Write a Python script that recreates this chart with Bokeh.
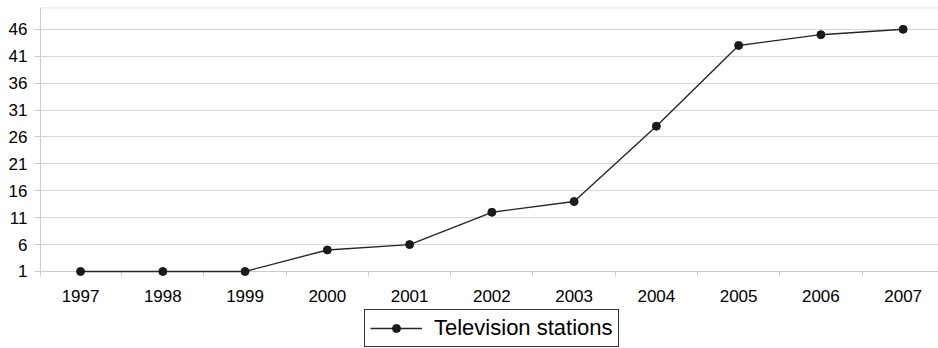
from bokeh.plotting import figure
from bokeh.models import FixedTicker, Range1d, Span, Legend, LegendItem, ColumnDataSource
from bokeh.embed import file_html
from bokeh.resources import INLINE

years = ["1997", "1998", "1999", "2000", "2001", "2002", "2003", "2004", "2005", "2006", "2007"]
stations = [1, 1, 1, 5, 6, 12, 14, 28, 43, 45, 46]
y_ticks = [1, 6, 11, 16, 21, 26, 31, 36, 41, 46]
series_name = "Television stations"

xs = list(range(len(years)))
src = ColumnDataSource(data=dict(x=xs, y=stations))

FONT = "Liberation Sans"
GRID = "#d9d9d9"
AXIS = "#cccccc"

p = figure(width=938, height=348, output_backend="svg", toolbar_location=None,
           x_range=Range1d(-0.487, 10.43), y_range=Range1d(-13.31, 50.05),
           min_border_left=40, min_border_right=0, min_border_top=7, min_border_bottom=0)
p.outline_line_color = None
p.background_fill_color = "white"
p.border_fill_color = "white"

# x axis sits at y = 1; labels at category centres, tick marks at category boundaries
p.xaxis.fixed_location = 1
p.xaxis.ticker = FixedTicker(ticks=xs, minor_ticks=[i - 0.5 for i in range(len(years) + 1)])
p.xaxis.major_label_overrides = {i: y for i, y in enumerate(years)}
p.xaxis.major_tick_out = 0
p.xaxis.major_tick_in = 0
p.xaxis.minor_tick_out = 5
p.xaxis.minor_tick_in = 0
p.xaxis.minor_tick_line_color = AXIS
p.xaxis.axis_line_color = AXIS
p.xaxis.major_label_standoff = 14
p.xaxis.major_label_text_font = FONT
p.xaxis.major_label_text_font_size = "17px"
p.xaxis.major_label_text_color = "black"

p.yaxis.ticker = FixedTicker(ticks=y_ticks, minor_ticks=[])
p.yaxis.bounds = (0.07, 50.05)
p.yaxis.major_tick_out = 6
p.yaxis.major_tick_in = 0
p.yaxis.major_tick_line_color = AXIS
p.yaxis.axis_line_color = AXIS
p.yaxis.major_label_standoff = 7
p.yaxis.major_label_text_font = FONT
p.yaxis.major_label_text_font_size = "17px"
p.yaxis.major_label_text_color = "black"

p.xgrid.visible = False
p.ygrid.ticker = FixedTicker(ticks=y_ticks, minor_ticks=[])
p.ygrid.grid_line_color = GRID
p.add_layout(Span(location=50, dimension="width", line_color=GRID, line_width=1))

ln = p.line("x", "y", source=src, line_color="#262626", line_width=1.4, level="overlay")
sc = p.scatter("x", "y", source=src, size=8, fill_color="#1a1a1a", line_color="#1a1a1a",
               level="overlay")

legend = Legend(items=[LegendItem(label=series_name, renderers=[ln, sc])],
                location=(324, 1), orientation="horizontal",
                border_line_color="#333333", border_line_width=1, border_line_alpha=1,
                label_text_font=FONT, label_text_font_size="22px", label_text_color="black",
                glyph_width=52, glyph_height=20, label_standoff=12, padding=5, margin=0,
                background_fill_color="white", background_fill_alpha=1)
p.add_layout(legend, "center")

open("out.html", "w").write(file_html(p, INLINE))
